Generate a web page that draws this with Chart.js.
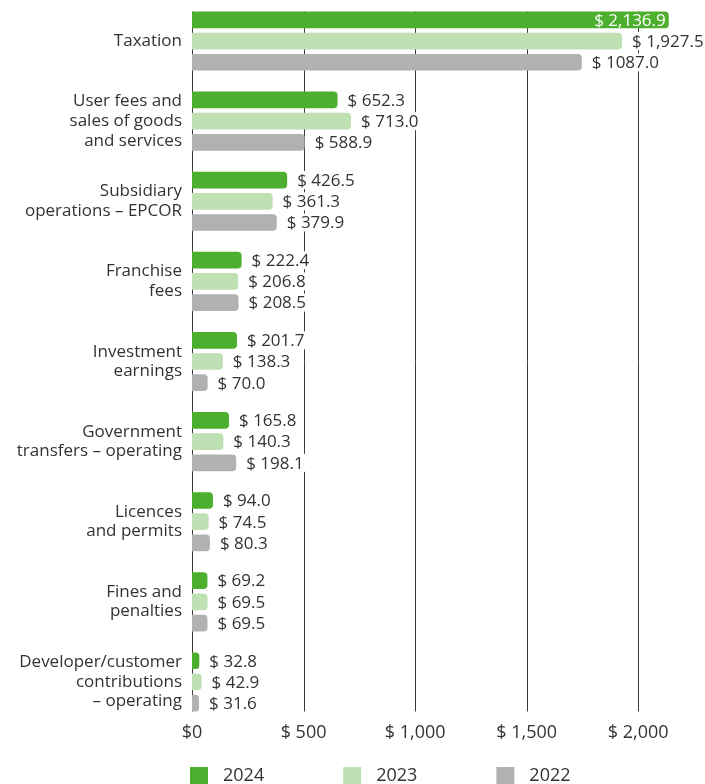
<!DOCTYPE html>
<html>
<head>
<meta charset="utf-8">
<script src="https://cdn.jsdelivr.net/npm/chart.js@4/dist/chart.umd.min.js"></script>
<style>
  body { margin: 0; background: #fff; }
  canvas { display: block; }
</style>
</head>
<body>
<canvas id="revenueChart" width="705" height="784"></canvas>
<script>
// categories (multi-line labels)
const categories = [
    ['Taxation'],
    ['User fees and', 'sales of goods', 'and services'],
    ['Subsidiary', 'operations – EPCOR'],
    ['Franchise', 'fees'],
    ['Investment', 'earnings'],
    ['Government', 'transfers – operating'],
    ['Licences', 'and permits'],
    ['Fines and', 'penalties'],
    ['Developer/customer', 'contributions', '– operating']
];

const seriesNames = ['2024', '2023', '2022'];

// bar lengths ($ millions) as drawn
const values2024 = [2136.9, 652.3, 426.5, 222.4, 201.7, 165.8, 94.0, 69.2, 32.8];
const values2023 = [1927.5, 713.0, 361.3, 206.8, 138.3, 140.3, 74.5, 69.5, 42.9];
const values2022 = [1747.0, 505.0, 379.9, 208.5, 70.0, 198.1, 80.3, 69.5, 31.6];

// value labels as printed
const labels2024 = ['$ 2,136.9', '$ 652.3', '$ 426.5', '$ 222.4', '$ 201.7', '$ 165.8', '$ 94.0', '$ 69.2', '$ 32.8'];
const labels2023 = ['$ 1,927.5', '$ 713.0', '$ 361.3', '$ 206.8', '$ 138.3', '$ 140.3', '$ 74.5', '$ 69.5', '$ 42.9'];
const labels2022 = ['$ 1087.0', '$ 588.9', '$ 379.9', '$ 208.5', '$ 70.0', '$ 198.1', '$ 80.3', '$ 69.5', '$ 31.6'];

const tickValues = [0, 500, 1000, 1500, 2000];
const tickLabels = ['$0', '$ 500', '$ 1,000', '$ 1,500', '$ 2,000'];

const colors = ['#4caf2d', '#bee0b3', '#b1b1b1'];
const textColor = '#333333';
const fontFamily = '"Open Sans", "Noto Sans", sans-serif';

const valueLabels = [labels2024, labels2023, labels2022];

// gridlines only spanning the bars, drawn behind them
const gridPlugin = {
    id: 'barGrid',
    beforeDatasetsDraw(chart) {
        const ctx = chart.ctx;
        const x = chart.scales.x;
        const first = chart.getDatasetMeta(0).data[0];
        const lastMeta = chart.getDatasetMeta(chart.data.datasets.length - 1);
        const last = lastMeta.data[lastMeta.data.length - 1];
        const top = first.y - first.height / 2;
        const bottom = last.y + last.height / 2;
        ctx.save();
        ctx.strokeStyle = '#3a3a3a';
        ctx.lineWidth = 1;
        tickValues.forEach(v => {
            const px = Math.round(x.getPixelForValue(v)) + 0.5;
            ctx.beginPath();
            ctx.moveTo(px, top);
            ctx.lineTo(px, bottom);
            ctx.stroke();
        });
        ctx.restore();
    }
};

// value labels at the end of each bar
const labelPlugin = {
    id: 'valueLabels',
    afterDatasetsDraw(chart) {
        const ctx = chart.ctx;
        ctx.save();
        ctx.font = '17px ' + fontFamily;
        ctx.textBaseline = 'middle';
        chart.data.datasets.forEach((ds, i) => {
            chart.getDatasetMeta(i).data.forEach((bar, j) => {
                const text = valueLabels[i][j];
                const w = ctx.measureText(text).width;
                if (bar.x + 10 + w > chart.width) {
                    ctx.fillStyle = '#ffffff';
                    ctx.textAlign = 'right';
                    ctx.fillText(text, bar.x - 3, bar.y + 1);
                } else {
                    ctx.fillStyle = '#ffffff';
                    ctx.fillRect(bar.x + 7, bar.y - 9, w + 5, 18);
                    ctx.fillStyle = textColor;
                    ctx.textAlign = 'left';
                    ctx.fillText(text, bar.x + 10, bar.y + 1);
                }
            });
        });
        ctx.restore();
    }
};

// legend row under the axis
const legendPlugin = {
    id: 'bottomLegend',
    afterDraw(chart) {
        const ctx = chart.ctx;
        ctx.save();
        ctx.font = '18px ' + fontFamily;
        ctx.textBaseline = 'middle';
        ctx.textAlign = 'left';
        let x = 190;
        chart.data.datasets.forEach(ds => {
            ctx.fillStyle = ds.backgroundColor;
            ctx.fillRect(x, 767, 18, 18);
            ctx.fillStyle = textColor;
            ctx.fillText(ds.label, x + 33, 776);
            x += 33 + ctx.measureText(ds.label).width + 79;
        });
        ctx.restore();
    }
};

const ctxR = document.getElementById('revenueChart').getContext('2d');

const revenueChart = new Chart(ctxR, {
    type: 'bar',
    plugins: [gridPlugin, labelPlugin, legendPlugin],
    data: {
        labels: categories,
        datasets: [values2024, values2023, values2022].map((vals, i) => ({
            label: seriesNames[i],
            data: vals,
            backgroundColor: colors[i],
            borderRadius: 4,
            borderSkipped: 'start',
            categoryPercentage: 0.794,
            barPercentage: 0.788
        }))
    },
    options: {
        indexAxis: 'y',
        responsive: false,
        animation: false,
        layout: {
            padding: { top: 1, right: 11, bottom: 0, left: 0 }
        },
        plugins: {
            legend: { display: false },
            tooltip: { enabled: false }
        },
        scales: {
            x: {
                min: 0,
                max: 2250,
                grid: { display: false, drawTicks: false },
                border: { display: false },
                afterBuildTicks: scale => {
                    scale.ticks = tickValues.map(v => ({ value: v }));
                },
                afterFit: scale => {
                    scale.height = 62;
                    scale.paddingLeft = 0;
                    scale.paddingRight = 0;
                },
                ticks: {
                    padding: 0,
                    autoSkip: false,
                    color: textColor,
                    font: { family: fontFamily, size: 18 },
                    maxRotation: 0,
                    callback: (value, index) => tickLabels[index]
                }
            },
            y: {
                grid: { display: false, drawTicks: false },
                border: { display: false },
                afterFit: scale => {
                    scale.width = 192;
                    scale.paddingTop = 0;
                    scale.paddingBottom = 0;
                },
                ticks: {
                    padding: 10,
                    autoSkip: false,
                    color: textColor,
                    font: { family: fontFamily, size: 17, lineHeight: 1.15 }
                }
            }
        }
    }
});
</script>
</body>
</html>
